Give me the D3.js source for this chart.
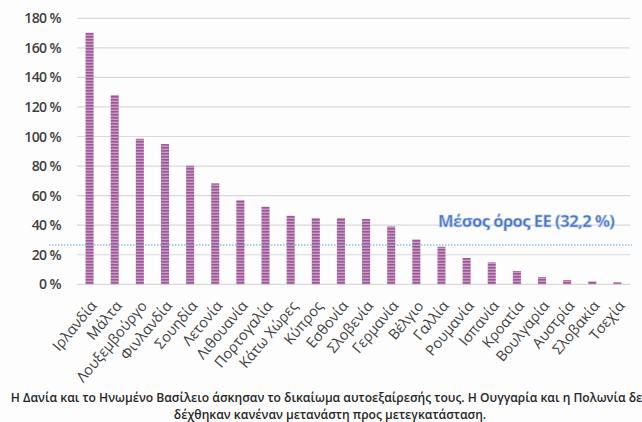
<!DOCTYPE html>
<html lang="el">
<head>
<meta charset="UTF-8">
<title>Μετεγκατάσταση</title>
<script src="https://d3js.org/d3.v7.min.js"></script>
<style>
    body { margin: 0; background: #fdfdfd; overflow: hidden; }
    .tick text { font-family: "Open Sans", sans-serif; fill: #404040; }
    .note { font-family: "Open Sans", sans-serif; font-size: 12.1px; font-weight: 600; fill: #262626; text-anchor: middle; }
</style>
</head>
<body>
<svg id="chart"></svg>
<script>
    const countries = ["Ιρλανδία", "Μάλτα", "Λουξεμβούργο", "Φινλανδία", "Σουηδία", "Λετονία",
        "Λιθουανία", "Πορτογαλία", "Κάτω Χώρες", "Κύπρος", "Εσθονία", "Σλοβενία", "Γερμανία",
        "Βέλγιο", "Γαλλία", "Ρουμανία", "Ισπανία", "Κροατία", "Βουλγαρία", "Αυστρία", "Σλοβακία", "Τσεχία"];
    const values = [170.2, 128.1, 98.5, 94.9, 80.2, 68.3, 57.0, 52.5, 46.4, 44.9, 44.9, 44.2, 39.2,
        30.4, 25.4, 17.8, 14.9, 9.0, 4.9, 2.9, 2.0, 1.3];
    const yTicks = [0, 20, 40, 60, 80, 100, 120, 140, 160, 180];
    const averageLine = 26.6;
    const averageLabel = "Μέσος όρος ΕΕ (32,2 %)";
    const notes = [
        "Η Δανία  και το  Ηνωμένο  Βασίλειο  άσκησαν το δικαίωμα  αυτοεξαίρεσής  τους. Η Ουγγαρία  και η Πολωνία  δεν",
        "δέχθηκαν  κανέναν  μετανάστη  προς μετεγκατάσταση."
    ];

    const width = 642, height = 422;
    const svg = d3.select("#chart").attr("width", width).attr("height", height);

    const defs = svg.append("defs");
    const pat = defs.append("pattern").attr("id", "stripes")
        .attr("patternUnits", "userSpaceOnUse").attr("width", 8).attr("height", 3);
    pat.append("rect").attr("width", 8).attr("height", 3).attr("fill", "#c99ac4");
    pat.append("rect").attr("width", 8).attr("height", 1.6).attr("fill", "#9d5797");

    const x = d3.scaleBand().domain(countries).range([77, 630]).paddingInner(0.68).paddingOuter(0.34);
    const y = d3.scaleLinear().domain([0, 180]).range([284.3, 18.3]);

    // gridlines
    svg.append("g").selectAll("line").data(yTicks).join("line")
        .attr("x1", 77).attr("x2", 630)
        .attr("y1", d => y(d)).attr("y2", d => y(d))
        .attr("stroke", "#d9d9d9").attr("stroke-width", 1.2);

    const yAxis = svg.append("g").attr("transform", "translate(77,0)")
        .call(d3.axisLeft(y).tickValues(yTicks).tickFormat(d => d + " %").tickSize(0).tickPadding(16));
    yAxis.select(".domain").remove();
    yAxis.selectAll("text").attr("font-size", 14).attr("font-weight", 600).attr("letter-spacing", -0.6);

    svg.append("g").selectAll("rect").data(values).join("rect")
        .attr("x", (d, i) => x(countries[i]))
        .attr("width", x.bandwidth())
        .attr("y", d => y(d))
        .attr("height", d => y(0) - y(d))
        .attr("fill", "url(#stripes)");

    // average line
    svg.append("line")
        .attr("x1", 49).attr("x2", 632)
        .attr("y1", y(averageLine)).attr("y2", y(averageLine))
        .attr("stroke", "#5b9bd5").attr("stroke-width", 1).attr("stroke-dasharray", "1.5,1.5");

    svg.append("text")
        .attr("x", 438).attr("y", y(averageLine) - 18)
        .attr("font-family", "Open Sans, sans-serif").attr("font-size", 16.5).attr("font-weight", 700)
        .attr("letter-spacing", -0.5)
        .attr("fill", "#4472c4").attr("stroke", "#b4c7e7").attr("stroke-width", 0.6)
        .text(averageLabel);

    // x labels
    const xAxis = svg.append("g").attr("transform", `translate(0,${y(0)})`)
        .call(d3.axisBottom(x).tickSize(0).tickPadding(0));
    xAxis.select(".domain").remove();
    xAxis.selectAll("text")
        .attr("font-size", 14.5).attr("fill", "#595959")
        .attr("text-anchor", "end").attr("dy", 0)
        .attr("transform", "translate(8,22) rotate(-50)");

    svg.selectAll(".note").data(notes).join("text")
        .attr("class", "note")
        .attr("x", 330).attr("y", (d, i) => 402 + i * 16.5)
        .text(d => d);
</script>
</body>
</html>
